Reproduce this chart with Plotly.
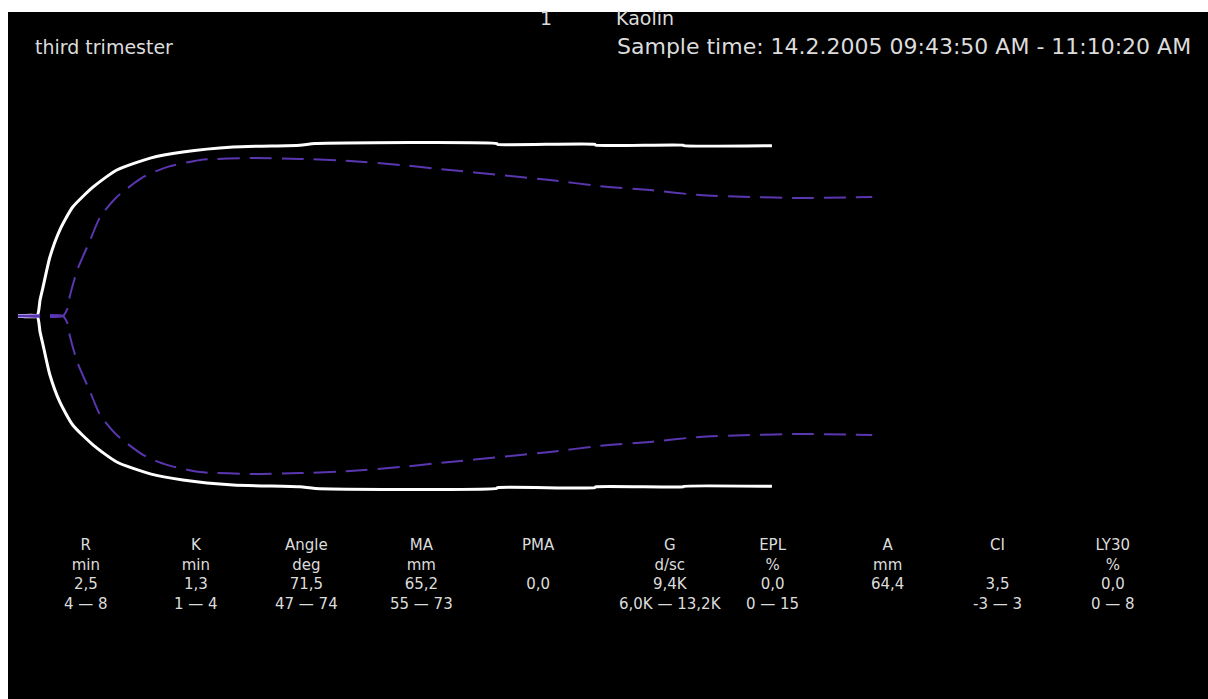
import plotly.graph_objects as go

# Thromboelastogram trace: time (min) vs. clot amplitude (mm)
sample_t = [0.0, 2.5, 2.9, 3.3, 4.2, 5.5, 7.2, 9.9, 13.0, 17.4, 21.7, 28.3, 37.1,
            39.1, 63.0, 63.1, 75.9, 76.0, 87.5, 87.6, 99.2]
sample_amp = [0.0, 0.0, 6.0, 11.0, 22.3, 32.5, 41.2, 48.8, 55.2, 59.7, 62.0, 63.9, 64.6,
              65.2, 65.2, 64.9, 64.9, 64.6, 64.6, 64.4, 64.4]

# Reference (normal) trace
ref_t = [0.0, 5.9, 6.3, 6.6, 6.8, 7.8, 9.5, 10.8, 13.0, 16.5, 19.6, 24.0, 30.5, 37.1,
         43.7, 50.3, 56.8, 63.4, 70.0, 76.6, 83.2, 89.7, 96.3, 102.9, 112.4]
ref_amp = [0.0, 0.0, 1.5, 3.4, 7.2, 17.4, 28.7, 37.4, 45.0, 52.6, 56.3, 59.0, 59.7, 59.4,
           58.6, 57.1, 55.2, 53.3, 51.4, 49.1, 47.6, 45.7, 45.0, 44.6, 45.0]

# Result table
param_names = ["R", "K", "Angle", "MA", "PMA", "G", "EPL", "A", "CI", "LY30"]
param_units = ["min", "min", "deg", "mm", "", "d/sc", "%", "mm", "", "%"]
param_values = ["2,5", "1,3", "71,5", "65,2", "0,0", "9,4K", "0,0", "64,4", "3,5", "0,0"]
param_ranges = ["4 — 8", "1 — 4", "47 — 74", "55 — 73", "", "6,0K — 13,2K",
                "0 — 15", "", "-3 — 3", "0 — 8"]

title_left = "third trimester"
channel_no = "1"
activator = "Kaolin"
sample_time = "Sample time: 14.2.2005 09:43:50 AM - 11:10:20 AM"

W, H = 1208, 699
ML, MT = 8, 12
PW, PH = W - ML, H - MT


def px(x):
    return (x - ML) / PW


def py(y):
    return 1 - (y - MT) / PH


fig = go.Figure()

# patient trace, upper and lower branch
for sign in (1, -1):
    fig.add_trace(go.Scatter(
        x=sample_t, y=[sign * a / 2 for a in sample_amp], mode="lines",
        line=dict(color="#ffffff", width=3, shape="spline", smoothing=0.6),
        hoverinfo="skip", showlegend=False))

# baseline before clotting starts
fig.add_trace(go.Scatter(
    x=[ref_t[0], sample_t[1]], y=[0, 0], mode="lines",
    line=dict(color="#9a7ee6", width=3), hoverinfo="skip", showlegend=False))

# reference trace, upper and lower branch
for sign in (1, -1):
    fig.add_trace(go.Scatter(
        x=ref_t, y=[sign * a / 2 for a in ref_amp], mode="lines",
        line=dict(color="#5a36b0", width=2, dash="22px,10px", shape="spline", smoothing=0.6),
        hoverinfo="skip", showlegend=False))

txt = "#dcdcdc"
font_top = dict(family="DejaVu Sans", size=22, color=txt)
font_title = dict(family="DejaVu Sans", size=19, color=txt)
font_tab = dict(family="DejaVu Sans", size=15, color=txt)

ann = [
    dict(x=px(33), y=py(47), text=title_left, xanchor="left", font=font_title),
    dict(x=px(546), y=py(18), text=channel_no, xanchor="center", font=font_title),
    dict(x=px(614), y=py(18), text=activator, xanchor="left", font=font_title),
    dict(x=px(615), y=py(46), text=sample_time, xanchor="left", font=font_top),
]

# one four-line block per parameter column: name, unit, value, normal range
col_x = [86, 196, 306, 422, 538, 670, 772, 887, 997, 1113]
block_mid_y = 574
for i in range(len(param_names)):
    lines = [param_names[i], param_units[i], param_values[i], param_ranges[i]]
    text = "<br>".join(s if s else "\u00a0" for s in lines)
    ann.append(dict(x=px(col_x[i]), y=py(block_mid_y), text=text, xanchor="center",
                    align="center", font=font_tab))

for a in ann:
    a.update(xref="paper", yref="paper", yanchor="middle", showarrow=False)

fig.update_layout(
    width=W, height=H,
    margin=dict(l=ML, t=MT, r=0, b=0, pad=0, autoexpand=False),
    paper_bgcolor="#ffffff", plot_bgcolor="#000000",
    annotations=ann,
    xaxis=dict(range=[(ML - 18) / 7.6, (W - 18) / 7.6], visible=False, fixedrange=True),
    yaxis=dict(range=[-(H - 316) / 5.29, (316 - MT) / 5.29], visible=False, fixedrange=True),
)

fig.write_html("out.html", config={"displayModeBar": False})
